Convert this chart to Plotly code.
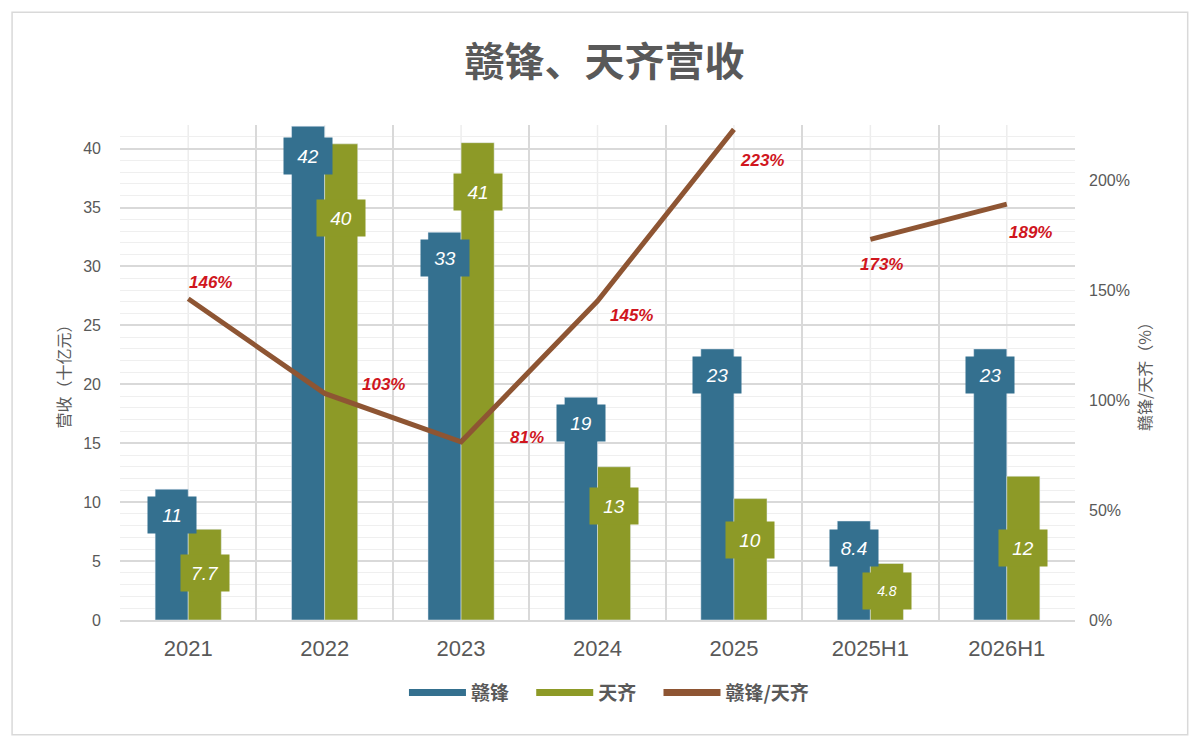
import plotly.graph_objects as go

# categories and values
periods = ["2021", "2022", "2023", "2024", "2025", "2025H1", "2026H1"]
ganfeng = [11.1, 41.9, 32.9, 18.9, 23.0, 8.4, 23.0]
tianqi = [7.7, 40.4, 40.5, 13.0, 10.3, 4.8, 12.2]
ganfeng_text = ["11", "42", "33", "19", "23", "8.4", "23"]
tianqi_text = ["7.7", "40", "41", "13", "10", "4.8", "12"]
ratio = [146, 103, 81, 145, 223, 173, 189]
ratio_text = ["146%", "103%", "81%", "145%", "223%", "173%", "189%"]

# where each data label box sits (in axis units) and label offsets for the ratio line
ganfeng_label_y = [8.9, 39.4, 30.7, 16.7, 20.8, 6.1, 20.8]
tianqi_label_y = [4.0, 34.1, 36.3, 9.7, 6.8, 2.5, 6.1]
ratio_shift = [(22, 16), (59, 9), (66, 4), (34, -14), (28, -31), (11, -25), (24, -28)]

BLUE = "#34708F"
OLIVE = "#8D9A27"
BROWN = "#8E5533"
RED = "#D0161E"
GREY = "#595959"
FONT = "Liberation Sans, Noto Sans CJK SC"
CJK = "Noto Sans CJK SC"
PAD = "\u00a0" * 4  # extra room between legend entries

fig = go.Figure()
fig.add_trace(go.Bar(x=periods, y=ganfeng, name="赣锋", marker_color=BLUE, showlegend=False))
fig.add_trace(go.Bar(x=periods, y=tianqi, name="天齐", marker_color=OLIVE, showlegend=False))

# line is broken between the full years and the half years
n_full = 5
fig.add_trace(go.Scatter(x=periods[:n_full], y=ratio[:n_full], name="赣锋/天齐", yaxis="y2",
                         mode="lines", line=dict(color=BROWN, width=5), showlegend=False))
fig.add_trace(go.Scatter(x=periods[n_full:], y=ratio[n_full:], name="赣锋/天齐", yaxis="y2",
                         mode="lines", line=dict(color=BROWN, width=5), showlegend=False))

# legend entries drawn as wide strokes, like the original
for name, col in (("赣锋" + PAD, BLUE), ("天齐" + PAD, OLIVE), ("赣锋/天齐", BROWN)):
    fig.add_trace(go.Scatter(x=[None], y=[None], name=name, mode="lines",
                             line=dict(color=col, width=7)))

# category names look like numbers, so annotations/shapes use the category index
annos = []
for i, p in enumerate(periods):
    for txt, ly, col, shift in ((ganfeng_text[i], ganfeng_label_y[i], BLUE, -16.5),
                                (tianqi_text[i], tianqi_label_y[i], OLIVE, 16.5)):
        annos.append(dict(x=i, y=ly, xref="x", yref="y", text=txt, showarrow=False,
                          xshift=shift, bgcolor=col, borderpad=6, width=36, height=24,
                          font=dict(family=FONT, size=14 if txt == "4.8" else 19,
                                    color="white", style="italic")))
    dx, dy = ratio_shift[i]
    annos.append(dict(x=i, y=ratio[i], xref="x", yref="y2", text=ratio_text[i],
                      showarrow=False, xshift=dx, yshift=dy,
                      font=dict(family=FONT, size=17, color=RED, style="italic", weight="bold")))

shapes = [dict(type="line", xref="x", yref="paper", x0=i, x1=i, y0=0, y1=1,
               line=dict(color="#EDEDED", width=1.5), layer="below") for i in range(len(periods))]
# chart frame
shapes.append(dict(type="rect", xref="paper", yref="paper", x0=-0.113, x1=1.118,
                   y0=-0.232, y1=1.228, line=dict(color="#D9D9D9", width=1.5)))

fig.update_layout(
    width=1200, height=749,
    margin=dict(l=112, r=133, t=117, b=137),
    paper_bgcolor="white", plot_bgcolor="white",
    font=dict(family=FONT, color=GREY),
    title=dict(text="<b>赣锋、天齐营收</b>", x=0.497, xanchor="center", y=0.928, yanchor="middle",
               font=dict(family=CJK, size=40, color=GREY)),
    barmode="group", bargap=0.515, bargroupgap=0,
    xaxis=dict(type="category", categoryorder="array", categoryarray=periods,
               range=[-0.5, len(periods) - 0.5], tickson="boundaries", showgrid=True,
               gridcolor="#D9D9D9", gridwidth=1.5, ticks="", showline=True, linecolor="#D9D9D9",
               linewidth=1.5, tickangle=0, ticklabelstandoff=8,
               tickfont=dict(size=22, color=GREY)),
    yaxis=dict(range=[0, 42], dtick=5, showgrid=True, gridcolor="#D9D9D9", gridwidth=1.5,
               minor=dict(dtick=1, showgrid=True, gridcolor="#EFEFEF", gridwidth=1),
               zeroline=False, ticklabelstandoff=18, tickfont=dict(size=16, color=GREY),
               title=dict(text="营收（十亿元）", font=dict(family=CJK, size=16, color=GREY),
                          standoff=8)),
    yaxis2=dict(range=[0, 225], dtick=50, ticksuffix="%", overlaying="y", side="right",
                showgrid=False, zeroline=False, ticklabelstandoff=13,
                tickfont=dict(size=16, color=GREY),
                title=dict(text="赣锋/天齐（%）", font=dict(family=CJK, size=16, color=GREY),
                           standoff=10)),
    legend=dict(orientation="h", x=0.512, xanchor="center", y=-0.147, yanchor="middle",
                font=dict(family=CJK, size=19, color=GREY, weight="bold"), itemwidth=57),
    annotations=annos,
    shapes=shapes,
)

fig.write_html("out.html")
